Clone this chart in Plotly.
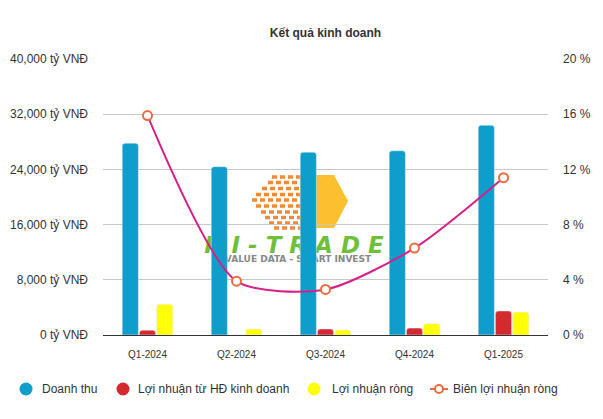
import plotly.graph_objects as go

quarters = ["Q1-2024", "Q2-2024", "Q3-2024", "Q4-2024", "Q1-2025"]
doanh_thu = [27800, 24400, 26500, 26700, 30400]
ln_hdkd = [700, 0, 870, 1000, 3480]
ln_rong = [4450, 870, 730, 1640, 3330]
bien_ln = [15.9, 3.9, 3.3, 6.3, 11.4]

series_names = ["Doanh thu", "Lợi nhuận từ HĐ kinh doanh", "Lợi nhuận ròng", "Biên lợi nhuận ròng"]

C_BLUE = "#0f9dcc"
C_RED = "#d42a2f"
C_YELLOW = "#ffff0a"
C_LINE = "#d61f8a"
C_MARK = "#ec6a3d"
FONT = "Liberation Sans, Arial, sans-serif"

# page body has an 8px margin: the figure is drawn 8px in from the window edge
OFF = 8
W, H = 603 - 2 * OFF, 419 - 2 * OFF
# plot area in window pixels
L, R, T, B = 103, 548, 59, 335


def px(x, y):
    return (x - L) / (R - L), (B - y) / (B - T)


fig = go.Figure()

fig.add_trace(go.Bar(x=quarters, y=doanh_thu, name=series_names[0], marker_color=C_BLUE))
fig.add_trace(go.Bar(x=quarters, y=ln_hdkd, name=series_names[1], marker_color=C_RED))
fig.add_trace(go.Bar(x=quarters, y=ln_rong, name=series_names[2], marker_color=C_YELLOW))
fig.add_trace(go.Scatter(x=quarters, y=bien_ln, name=series_names[3], yaxis="y2",
                         mode="lines+markers",
                         line=dict(color=C_LINE, width=2, shape="spline", smoothing=0.7),
                         marker=dict(symbol="circle", size=9, color="white",
                                     line=dict(color=C_MARK, width=2))))

shapes = []
annotations = []

# ---- decorative watermark (logo) ----
pts = [(300, 175), (334, 175), (348, 201), (334, 228), (300, 228)]
path = "M " + " L ".join(f"{px(a, b)[0]:.4f},{px(a, b)[1]:.4f}" for a, b in pts) + " Z"
shapes.append(dict(type="path", xref="paper", yref="paper", path=path,
                   fillcolor="#fcc02e", line=dict(width=0), layer="between"))
rows = [(177, 272), (182.5, 268), (188.5, 262), (194.5, 256), (200, 252),
        (206, 256), (212, 261), (217.5, 265), (223, 269), (228, 274)]
for yy, xl in rows:
    x0, y0 = px(xl, yy)
    x1, _ = px(302, yy)
    shapes.append(dict(type="line", xref="paper", yref="paper", x0=x0, x1=x1, y0=y0, y1=y0,
                       line=dict(color="#ef8a3a", width=3.5, dash="5px,3px"), layer="between"))
cx, cy = px(294, 243)
shapes.append(dict(type="rect", xref="paper", yref="paper", x0=cx - 0.3, x1=cx + 0.3,
                   y0=cy - 0.05, y1=cy + 0.05, line=dict(width=0), fillcolor="rgba(0,0,0,0)",
                   layer="between",
                   label=dict(text="H I - T R A D E", textposition="middle center",
                              font=dict(family="DejaVu Sans", size=23, color="#6fbf3c",
                                        weight="bold", style="italic"))))
cx, cy = px(298, 258)
shapes.append(dict(type="rect", xref="paper", yref="paper", x0=cx - 0.3, x1=cx + 0.3,
                   y0=cy - 0.03, y1=cy + 0.03, line=dict(width=0), fillcolor="rgba(0,0,0,0)",
                   layer="between",
                   label=dict(text="VALUE DATA - SMART INVEST", textposition="middle center",
                              font=dict(family="DejaVu Sans", size=9, color="#888888",
                                        weight="bold"))))

# ---- legend (drawn manually to match spacing) ----
leg_y = px(0, 389)[1]
leg_items = [(26, 40, C_BLUE), (123, 136, C_RED), (314, 330, C_YELLOW)]
for (cxp, txp, col), name in zip(leg_items, series_names[:3]):
    shapes.append(dict(type="circle", xref="paper", yref="paper", xsizemode="pixel",
                       ysizemode="pixel", xanchor=px(cxp, 0)[0], yanchor=leg_y,
                       x0=-6.5, x1=6.5, y0=-6.5, y1=6.5, fillcolor=col, line=dict(width=0)))
    annotations.append(dict(text=name, xref="paper", yref="paper", x=px(txp, 0)[0], y=leg_y,
                            xanchor="left", yanchor="middle", showarrow=False,
                            font=dict(size=12, color="#333333")))
lx0, lx1 = px(430, 0)[0], px(448, 0)[0]
shapes.append(dict(type="line", xref="paper", yref="paper", x0=lx0, x1=lx1, y0=leg_y, y1=leg_y,
                   line=dict(color=C_MARK, width=2)))
shapes.append(dict(type="circle", xref="paper", yref="paper", xsizemode="pixel",
                   ysizemode="pixel", xanchor=(lx0 + lx1) / 2, yanchor=leg_y,
                   x0=-4, x1=4, y0=-4, y1=4, fillcolor="white",
                   line=dict(color=C_MARK, width=2)))
annotations.append(dict(text=series_names[3], xref="paper", yref="paper", x=px(451, 0)[0],
                        y=leg_y, xanchor="left", yanchor="middle", showarrow=False,
                        font=dict(size=12, color="#333333")))

fig.update_layout(
    width=W, height=H,
    margin=dict(l=L - OFF, r=(W + OFF) - R, t=T - OFF, b=(H + OFF) - B, autoexpand=False),
    paper_bgcolor="white", plot_bgcolor="white",
    font=dict(family=FONT, size=12, color="#333333"),
    showlegend=False,
    title=dict(text="Kết quả kinh doanh", x=0.5, xanchor="center", xref="paper",
               y=1 - (33 - OFF) / H, yref="container", yanchor="middle",
               font=dict(family=FONT, size=12, color="#333333", weight="bold")),
    barmode="group", bargap=0.42, bargroupgap=0.06, barcornerradius=3,
    xaxis=dict(type="category", showgrid=False, showline=False, zeroline=False,
               ticks="", ticklabelstandoff=12, automargin=False,
               tickfont=dict(size=10, color="#333333")),
    yaxis=dict(range=[0, 40000], dtick=8000, tickformat=",", ticksuffix=" tỷ VNĐ",
               showgrid=True, gridcolor="#c8c8c8", gridwidth=1,
               zeroline=True, zerolinecolor="#333333", zerolinewidth=1,
               showline=False, ticks="", ticklabelstandoff=14, automargin=False,
               tickfont=dict(size=12, color="#333333")),
    yaxis2=dict(range=[0, 20], dtick=4, ticksuffix=" %", overlaying="y", side="right",
                showgrid=False, zeroline=False, showline=False, ticks="",
                ticklabelstandoff=14, automargin=False,
                tickfont=dict(size=12, color="#333333")),
    shapes=shapes,
    annotations=annotations,
)

fig.write_html("out.html")
